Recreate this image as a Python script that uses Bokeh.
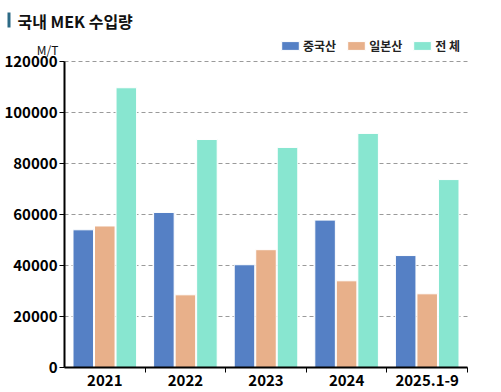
from bokeh.plotting import figure
from bokeh.models import (Range1d, FixedTicker, NumeralTickFormatter, Legend, LegendItem,
                          Label, BoxAnnotation, ColumnDataSource)
from bokeh.transform import dodge
from bokeh.embed import file_html
from bokeh.resources import INLINE

categories = ["2021", "2022", "2023", "2024", "2025.1-9"]
china = [54000, 60800, 40300, 57800, 43900]
japan = [55500, 28500, 46200, 34000, 28900]
total = [109700, 89400, 86300, 91800, 73700]
y_ticks = [0, 20000, 40000, 60000, 80000, 100000, 120000]
y_max = 120000
series_names = ["중국산", "일본산", "전 체"]
colors = ["#5580C5", "#E8B08A", "#88E6D0"]
title_text = "국내 MEK 수입량"
unit_text = "M/T"

FONT = "Noto Sans CJK KR"

# ---- layout (pixels inside the figure) ----
W, H = 497, 390
PX_LEFT, PX_RIGHT = 64, 467      # x of the plot area's left / right edge
PY_TOP, PY_ZERO = 61, 367        # y of the top value / of zero
n = len(categories)
x_per_px = n / (PX_RIGHT - PX_LEFT)
y_per_px = y_max / (PY_ZERO - PY_TOP)
x_start = -PX_LEFT * x_per_px
x_end = n + (W - PX_RIGHT) * x_per_px
y_end = y_max + PY_TOP * y_per_px
y_start = -(H - PY_ZERO) * y_per_px


def fx(px):
    return x_start + px * x_per_px


def fy(py):
    return y_end - py * y_per_px


xpos = [i + 0.5 for i in range(n)]
src = ColumnDataSource(dict(x=xpos, china=china, japan=japan, total=total))

p = figure(width=W, height=H, output_backend="svg", toolbar_location=None, title=None,
           x_range=Range1d(x_start, x_end), y_range=Range1d(y_start, y_end),
           min_border=0, min_border_left=0, min_border_right=0,
           min_border_top=0, min_border_bottom=0)
p.outline_line_color = None
p.background_fill_color = "white"
p.border_fill_color = "white"

renderers = []
for off, key, col in zip([-0.267, 0.0, 0.267], ["china", "japan", "total"], colors):
    r = p.vbar(x=dodge("x", off, range=p.x_range), top=key, width=0.255, source=src,
               fill_color=col, line_color="white", line_width=1)
    renderers.append(r)

# y axis
ya = p.yaxis[0]
ya.fixed_location = 0
ya.bounds = (0, y_max)
ya.ticker = FixedTicker(ticks=y_ticks)
ya.formatter = NumeralTickFormatter(format="0")
ya.axis_line_color = "black"
ya.axis_line_width = 2
ya.major_tick_line_color = "black"
ya.major_tick_out = 5
ya.major_tick_in = 0
ya.minor_tick_line_color = None
ya.major_label_text_font = FONT
ya.major_label_text_font_style = "bold"
ya.major_label_text_font_size = "15px"
ya.major_label_text_color = "black"
ya.major_label_standoff = 2

# x axis
xa = p.xaxis[0]
xa.fixed_location = 0
xa.bounds = (0, n)
xa.ticker = FixedTicker(ticks=xpos, minor_ticks=list(range(1, n + 1)))
xa.major_label_overrides = {x: c for x, c in zip(xpos, categories)}
xa.axis_line_color = "black"
xa.axis_line_width = 2
xa.major_tick_line_color = None
xa.major_tick_out = 0
xa.major_tick_in = 0
xa.minor_tick_line_color = "black"
xa.minor_tick_line_width = 1
xa.minor_tick_out = 5
xa.minor_tick_in = 0
xa.major_label_text_font = FONT
xa.major_label_text_font_style = "bold"
xa.major_label_text_font_size = "15px"
xa.major_label_text_color = "black"
xa.major_label_standoff = 2

# grid
p.xgrid.visible = False
p.ygrid.ticker = FixedTicker(ticks=y_ticks)
p.ygrid.bounds = (y_start, y_end)
p.ygrid.cross_bounds = (0, n)
p.ygrid.grid_line_color = "#9a9a9a"
p.ygrid.grid_line_dash = "4 3"
p.ygrid.grid_line_width = 1

# legend
legend = Legend(items=[LegendItem(label=s, renderers=[r]) for s, r in zip(series_names, renderers)],
                orientation="horizontal", location=(279, H - 54),
                glyph_width=22, glyph_height=11, label_standoff=2, spacing=9,
                padding=0, margin=0, border_line_color=None, background_fill_alpha=0,
                label_text_font=FONT, label_text_font_size="12px", label_text_font_style="bold",
                label_text_color="#222222", label_height=12, label_width=10)
p.add_layout(legend)

# title, marker and unit
p.add_layout(BoxAnnotation(left=fx(7), right=fx(10), top=fy(12), bottom=fy(27),
                           fill_color="#2D6A85", fill_alpha=1, line_color=None))
p.add_layout(Label(x=fx(17), y=fy(20), text=title_text,
                   text_font=FONT, text_font_style="bold", text_font_size="16px",
                   text_baseline="middle", text_align="left", text_color="#111111"))
p.add_layout(Label(x=fx(47), y=fy(49), text=unit_text,
                   text_font=FONT, text_font_size="12px",
                   text_baseline="middle", text_align="center", text_color="#111111"))

open("out.html", "w").write(file_html(p, INLINE))
